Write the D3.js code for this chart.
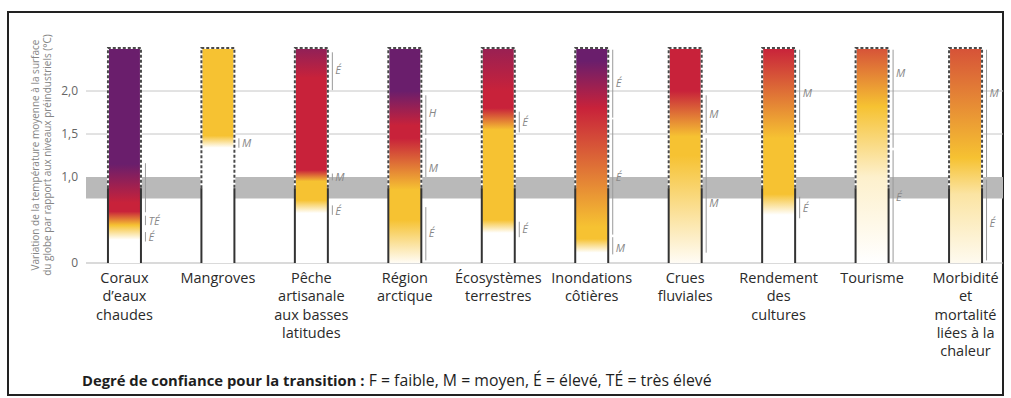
<!DOCTYPE html>
<html><head><meta charset="utf-8">
<script src="https://cdn.jsdelivr.net/npm/d3@7"></script>
<style>body{margin:0;background:#fff}svg{display:block}</style>
</head><body><svg id="c" width="1011" height="398"></svg>
<script>
// ---------- DATA ----------
const categories = ["Coraux","Mangroves","Pêche","Région","Écosystèmes","Inondations","Crues","Rendement","Tourisme","Morbidité"];
const categoryLabels = [
  ["Coraux","d’eaux","chaudes"],
  ["Mangroves"],
  ["Pêche","artisanale","aux basses","latitudes"],
  ["Région","arctique"],
  ["Écosystèmes","terrestres"],
  ["Inondations","côtières"],
  ["Crues","fluviales"],
  ["Rendement","des","cultures"],
  ["Tourisme"],
  ["Morbidité","et","mortalité","liées à la","chaleur"]
];
const yTicks = [0, 1.0, 1.5, 2.0];
const yTickLabels = ["0", "1,0", "1,5", "2,0"];
const gridValues = [1.5, 2.0];
const barTop = 2.5;
const recentWarming = [0.75, 1.0];
const solidEdgeTop = 0.87;
const yTitle = ["Variation de la température moyenne à la surface", "du globe par rapport aux niveaux préindustriels (°C)"];
const legendBold = "Degré de confiance pour la transition :";
const legendText = " F = faible, M = moyen, É = élevé, TÉ = très élevé";

// risk level: 0 = non détectable, 1 = modéré, 2 = élevé, 3 = très élevé
const riskLevels = [0, 1, 2, 3];
const riskColors = ["#ffffff", "#f6c232", "#c8223a", "#6a1e6c"];

// [température, niveau de risque]
const stopsCoraux      = [[0.27,0],[0.44,1],[0.6,2],[0.7,2],[1.15,3],[2.5,3]];
const stopsMangroves   = [[1.34,0],[1.48,1],[2.5,1]];
const stopsPeche       = [[0.58,0],[0.73,1],[0.95,1],[1.08,2],[2.15,2],[2.5,2.6]];
const stopsRegion      = [[0,0.05],[0.5,1],[0.85,1],[1.45,2],[1.6,2],[2.0,3],[2.5,3]];
const stopsEcosystemes = [[0.35,0],[0.5,1],[1.55,1],[1.8,2],[2.0,2],[2.5,2.5]];
const stopsInondations = [[0.12,0],[0.28,1],[0.42,1],[1.8,2],[2.35,3],[2.5,3]];
const stopsCrues       = [[0,0.05],[1.25,1],[1.47,1],[2.0,2],[2.5,2]];
const stopsRendement   = [[0.56,0],[0.8,1],[1.45,1],[2.5,2]];
const stopsTourisme    = [[0,0],[1.0,0.25],[1.82,1],[2.5,1.7]];
const stopsMorbidite   = [[0,0.08],[0.8,0.45],[1.22,1],[2.5,1.7]];
const riskStops = [stopsCoraux, stopsMangroves, stopsPeche, stopsRegion, stopsEcosystemes,
                   stopsInondations, stopsCrues, stopsRendement, stopsTourisme, stopsMorbidite];

// confidence segments: [bas, haut, libellé, position du libellé]
const confCoraux      = [[0.59,1.16,"",0],[0.44,0.55,"TÉ",0.49],[0.25,0.36,"É",0.30]];
const confMangroves   = [[1.34,1.45,"M",1.39]];
const confPeche       = [[2.01,2.45,"É",2.24],[0.96,1.04,"M",1.0],[0.56,0.67,"É",0.61]];
const confRegion      = [[1.49,1.95,"H",1.74],[1.0,1.45,"M",1.1],[0.03,0.65,"É",0.35]];
const confEcosystemes = [[1.52,1.76,"É",1.64],[0.30,0.48,"É",0.40]];
const confInondations = [[1.69,2.48,"É",2.09],[0.33,1.67,"É",1.0],[0.10,0.30,"M",0.18]];
const confCrues       = [[1.51,1.95,"M",1.73],[0.12,1.45,"M",0.70]];
const confRendement   = [[1.52,2.48,"M",1.98],[0.52,0.77,"É",0.64]];
const confTourisme    = [[1.34,2.48,"M",2.21],[0.01,1.31,"É",0.77]];
const confMorbidite   = [[1.0,2.48,"M",1.98],[0.03,0.97,"É",0.47]];
const confidence = [confCoraux, confMangroves, confPeche, confRegion, confEcosystemes,
                    confInondations, confCrues, confRendement, confTourisme, confMorbidite];

// ---------- CHART ----------
const svg = d3.select("#c");
const font = "'Open Sans', 'Noto Sans', sans-serif";
const x = d3.scaleBand().domain(categories).range([86, 1004]).paddingInner(0.647).paddingOuter(0.235);
const y = d3.scaleLinear().domain([0, barTop]).range([263, 48]);
const riskColor = d3.scaleLinear().domain(riskLevels).range(riskColors).interpolate(d3.interpolateRgb);
const plotRight = 1003;

// frame
svg.append("rect").attr("x", 8).attr("y", 12).attr("width", 995).attr("height", 383)
  .attr("fill", "none").attr("stroke", "#222").attr("stroke-width", 2);

// band (recent warming)
svg.append("rect").attr("x", 86).attr("width", plotRight - 86)
  .attr("y", y(recentWarming[1])).attr("height", y(recentWarming[0]) - y(recentWarming[1]))
  .attr("fill", "#b9b9b9");

// grid
svg.selectAll("line.grid").data(gridValues).join("line").attr("class", "grid")
  .attr("x1", 86).attr("x2", plotRight).attr("y1", d => y(d)).attr("y2", d => y(d))
  .attr("stroke", "#c6c6c6").attr("stroke-width", 1);
svg.append("line").attr("x1", 86).attr("x2", plotRight).attr("y1", y(0)).attr("y2", y(0))
  .attr("stroke", "#b5b5b5").attr("stroke-width", 1.2);

// y axis labels
const yAxis = d3.axisLeft(y).tickValues(yTicks).tickSize(0).tickPadding(0)
  .tickFormat((d, i) => yTickLabels[i]);
const ya = svg.append("g").attr("transform", "translate(78,0)").call(yAxis);
ya.select(".domain").remove();
ya.selectAll("text").attr("font-family", font).attr("font-size", 12).attr("fill", "#666");

// y title
yTitle.forEach((t, i) => {
  svg.append("text").attr("transform", `translate(${39 + i * 12},155) rotate(-90)`)
    .attr("text-anchor", "middle").attr("font-family", font).attr("font-size", 10)
    .attr("fill", "#858585").text(t);
});

// gradients
const defs = svg.append("defs");
categories.forEach((c, i) => {
  const g = defs.append("linearGradient").attr("id", "g" + i)
    .attr("gradientUnits", "userSpaceOnUse")
    .attr("x1", 0).attr("x2", 0).attr("y1", y(0)).attr("y2", y(barTop));
  g.selectAll("stop").data(riskStops[i]).join("stop")
    .attr("offset", d => d[0] / barTop)
    .attr("stop-color", d => riskColor(d[1]));
});

// bars
const bars = svg.selectAll("g.bar").data(categories).join("g").attr("class", "bar");
bars.append("rect")
  .attr("x", d => x(d)).attr("width", x.bandwidth())
  .attr("y", y(barTop)).attr("height", y(0) - y(barTop))
  .attr("fill", (d, i) => `url(#g${i})`);

// dashed outline (upper part) + solid lower edges
bars.each(function (d) {
  const g = d3.select(this);
  const x0 = x(d), x1 = x(d) + x.bandwidth();
  const path = `M${x0},${y(solidEdgeTop)} L${x0},${y(barTop)} L${x1},${y(barTop)} L${x1},${y(solidEdgeTop)}`;
  g.append("path").attr("d", path).attr("fill", "none").attr("stroke", "#fff").attr("stroke-width", 2);
  g.append("path").attr("d", path).attr("fill", "none").attr("stroke", "#4a4a4a")
    .attr("stroke-width", 2).attr("stroke-dasharray", "3,2");
  [x0, x1].forEach(xx => {
    g.append("line").attr("x1", xx).attr("x2", xx).attr("y1", y(solidEdgeTop)).attr("y2", y(0))
      .attr("stroke", "#333").attr("stroke-width", 2);
  });
});

// confidence lines
categories.forEach((c, i) => {
  const lx = x(c) + x.bandwidth() + 4.5;
  confidence[i].forEach(s => {
    svg.append("line").attr("x1", lx).attr("x2", lx).attr("y1", y(s[0])).attr("y2", y(s[1]))
      .attr("stroke", "#9a9a9a").attr("stroke-width", 1);
    if (s[2]) {
      svg.append("text").attr("x", lx + 3).attr("y", y(s[3]) + 4)
        .attr("font-family", font).attr("font-size", 11).attr("font-style", "italic")
        .attr("fill", "#888").text(s[2]);
    }
  });
});

// category labels
categories.forEach((c, i) => {
  const t = svg.append("text").attr("text-anchor", "middle").attr("font-family", font)
    .attr("font-size", 14.5).attr("fill", "#2a2a2a");
  categoryLabels[i].forEach((line, k) => {
    t.append("tspan").attr("x", x(c) + x.bandwidth() / 2).attr("y", 283 + k * 18.3).text(line);
  });
});

// legend
const lg = svg.append("text").attr("x", 82).attr("y", 386).attr("font-family", font)
  .attr("fill", "#1e1e1e");
lg.append("tspan").attr("font-weight", "bold").attr("font-size", 14.8).text(legendBold);
lg.append("tspan").attr("font-size", 15.8).text(legendText);
</script></body></html>
